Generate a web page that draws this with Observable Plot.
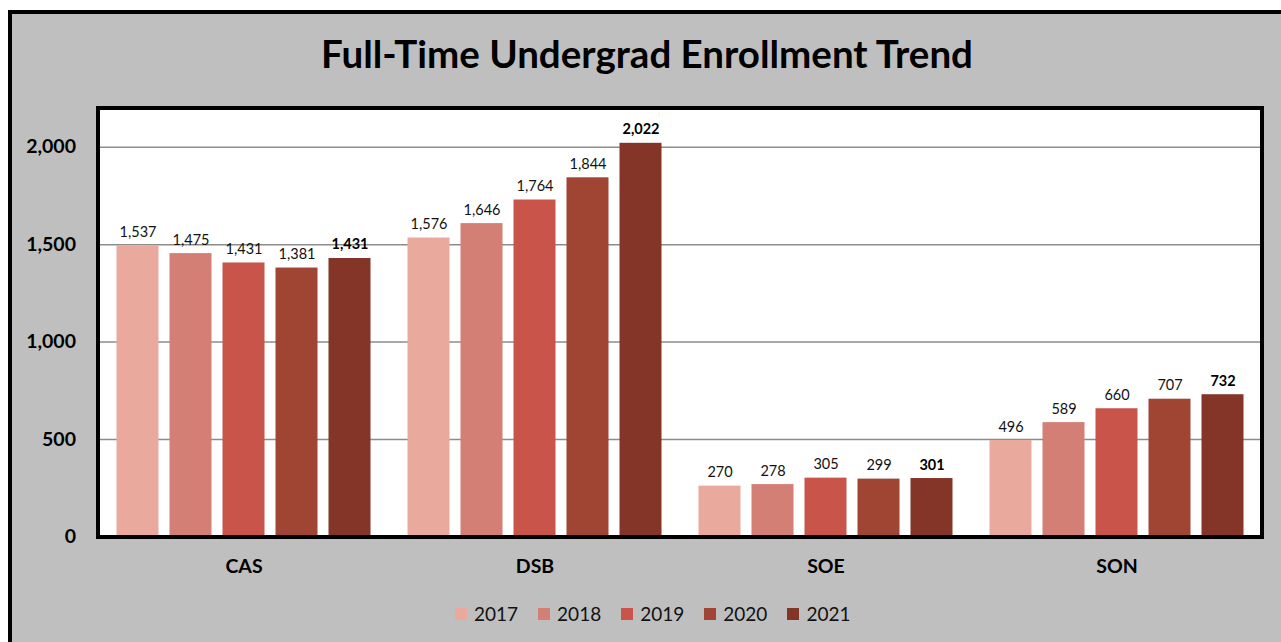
<!DOCTYPE html>
<html>
<head>
<meta charset="utf-8">
<script src="https://cdn.jsdelivr.net/npm/d3@7"></script>
<script src="https://cdn.jsdelivr.net/npm/@observablehq/plot@0.6"></script>
<style>
  html, body { margin: 0; padding: 0; background: #ffffff; width: 1281px; height: 642px; overflow: hidden; font-family: Lato, "Open Sans", sans-serif; }
  #panel { position: absolute; left: 8px; top: 10px; width: 1300px; height: 660px; background: #bfbfbf; border: 4px solid #000; box-sizing: border-box; }
  #plotbg { position: absolute; left: 96px; top: 106px; width: 1168px; height: 433px; background: #fff; }
  #plotborder { position: absolute; left: 96px; top: 106px; width: 1168px; height: 433px; border: 4px solid #000; box-sizing: border-box; pointer-events: none; }
  #chart { position: absolute; left: 0; top: 0; }
  #title { position: absolute; left: 0; top: 31px; width: 1294px; text-align: center; font-family: Lato, sans-serif; font-weight: bold; font-size: 38.5px; line-height: 44px; color: #000; }
  #legend { position: absolute; left: 455px; top: 602px; display: flex; align-items: center; font-family: Lato, sans-serif; font-size: 19px; line-height: 24px; color: #111; }
  #legend .item { display: flex; align-items: center; margin-right: 20px; }
  #legend .sw { width: 12px; height: 12px; margin-right: 7px; }
</style>
</head>
<body>
<div id="panel"></div>
<div id="plotbg"></div>
<div id="chart"></div>
<div id="plotborder"></div>
<div id="title">Full-Time Undergrad Enrollment Trend</div>
<div id="legend"></div>
<script>
// Categories
const schools = ["CAS", "DSB", "SOE", "SON"];
const years = ["2017", "2018", "2019", "2020", "2021"];
const yearColors = ["#E9AA9D", "#D47F75", "#C8544A", "#A04434", "#843528"];

// Bar heights as drawn in the picture (per school, by year)
const casBars = [1493, 1454, 1406, 1380, 1429];
const dsbBars = [1534, 1608, 1729, 1843, 2020];
const soeBars = [261, 269, 302, 297, 300];
const sonBars = [495, 587, 658, 707, 730];

// Data labels printed above the bars
const casLabels = [1537, 1475, 1431, 1381, 1431];
const dsbLabels = [1576, 1646, 1764, 1844, 2022];
const soeLabels = [270, 278, 305, 299, 301];
const sonLabels = [496, 589, 660, 707, 732];

// Axis ticks
const yTicks = [0, 500, 1000, 1500, 2000];

const barSets = [casBars, dsbBars, soeBars, sonBars];
const labelSets = [casLabels, dsbLabels, soeLabels, sonLabels];
const data = [];
schools.forEach((s, i) => {
  years.forEach((yr, j) => {
    data.push({school: s, year: yr, value: barSets[i][j], label: labelSets[i][j]});
  });
});

const fmt = d3.format(",");
const lastYear = years[years.length - 1];

const chart = Plot.plot({
  width: 1281,
  height: 642,
  marginLeft: 97.5,
  marginRight: 18,
  marginTop: 146.7,
  marginBottom: 105.5,
  style: {background: "transparent", fontFamily: "Lato, sans-serif", color: "#000", overflow: "visible"},
  fx: {domain: schools, padding: 0, axis: null},
  x: {domain: years, paddingInner: 0.2, paddingOuter: 0.3, axis: null},
  y: {domain: [0, 2000], axis: null},
  color: {domain: years, range: yearColors},
  marks: [
    Plot.ruleY(yTicks.filter(d => d > 0), {stroke: "#8c8c8c", strokeWidth: 1.5}),
    Plot.barY(data, {fx: "school", x: "year", y: "value", fill: "year"}),
    Plot.text(data, {filter: d => d.year !== lastYear, fx: "school", x: "year", y: "value", text: d => fmt(d.label), dy: -9, lineAnchor: "bottom", fontSize: 14.5, fill: "#111"}),
    Plot.text(data, {filter: d => d.year === lastYear, fx: "school", x: "year", y: "value", text: d => fmt(d.label), dy: -9, lineAnchor: "bottom", fontSize: 14.5, fontWeight: "bold", fill: "#000"}),
    Plot.axisY({ticks: yTicks, tickFormat: fmt, tickSize: 0, tickPadding: 22.5, fontSize: 19.5, fontWeight: "bold", label: null}),
    Plot.axisFx({anchor: "bottom", tickSize: 0, tickPadding: 22, fontSize: 19.5, fontWeight: "bold", label: null})
  ]
});
document.getElementById("chart").appendChild(chart);

const legend = document.getElementById("legend");
years.forEach((yr, i) => {
  const item = document.createElement("div");
  item.className = "item";
  const sw = document.createElement("span");
  sw.className = "sw";
  sw.style.background = yearColors[i];
  const t = document.createElement("span");
  t.textContent = yr;
  item.appendChild(sw);
  item.appendChild(t);
  legend.appendChild(item);
});
</script>
</body>
</html>
